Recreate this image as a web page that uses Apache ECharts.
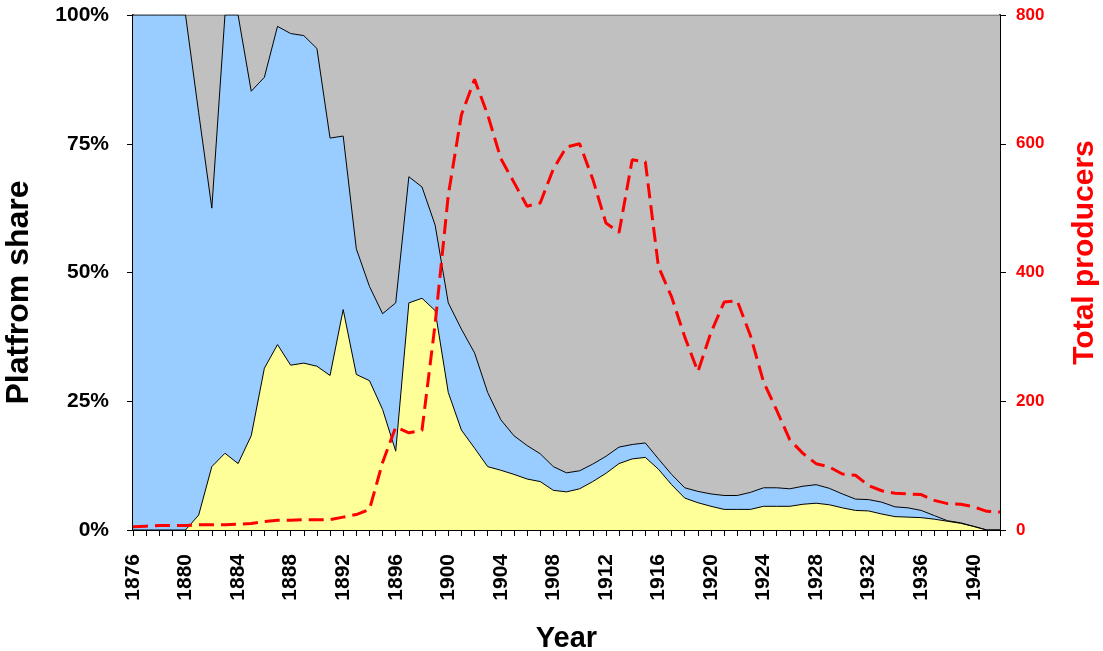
<!DOCTYPE html>
<html>
<head>
<meta charset="utf-8">
<script src="https://cdn.jsdelivr.net/npm/echarts@6/dist/echarts.min.js"></script>
<style>
  html, body { margin: 0; padding: 0; background: #fff; }
  #main { width: 1103px; height: 651px; }
</style>
</head>
<body>
<div id="main"></div>
<script>
// years 1876 - 1942
var years = [];
for (var y = 1876; y <= 1942; y++) years.push(String(y));

// platform share, %
var evShare = [0, 0, 0, 0, 0, 2.9, 12.3, 14.9, 12.9, 18.3,
  31.4, 36.0, 32.0, 32.4, 31.8, 30.0, 42.8, 30.2, 29.0, 23.4,
  15.3, 44.1, 45.0, 42.6, 26.7, 19.4, 15.9, 12.3, 11.6, 10.8,
  9.9, 9.4, 7.7, 7.4, 8.0, 9.4, 11.0, 12.9, 13.8, 14.1,
  11.8, 8.8, 6.2, 5.3, 4.6, 4.0, 4.0, 4.0, 4.6, 4.6,
  4.6, 5.0, 5.2, 4.9, 4.3, 3.8, 3.7, 3.1, 2.6, 2.5,
  2.4, 2.1, 1.7, 1.3, 0.7, 0, 0];
var steamShare = [100, 100, 100, 100, 100, 78.1, 50.2, 85.1, 87.1, 66.9,
  56.5, 61.8, 64.4, 63.6, 61.7, 46.1, 33.7, 24.4, 18.3, 18.6,
  28.8, 24.5, 21.6, 16.6, 17.4, 19.6, 18.5, 14.4, 9.8, 7.5,
  6.5, 5.4, 4.6, 3.7, 3.5, 3.4, 3.3, 3.2, 2.8, 2.8,
  2.0, 2.0, 2.0, 2.2, 2.4, 2.7, 2.7, 3.3, 3.6, 3.6,
  3.4, 3.5, 3.6, 3.2, 2.7, 2.2, 2.2, 2.3, 1.9, 1.8,
  1.4, 0.7, 0.1, 0.1, 0, 0, 0];
var iceShare = [0, 0, 0, 0, 0, 19.0, 37.5, 0, 0, 14.8,
  12.1, 2.2, 3.6, 4.0, 6.5, 23.9, 23.5, 45.4, 52.7, 58.0,
  55.9, 31.4, 33.4, 40.8, 55.9, 61.0, 65.6, 73.3, 78.6, 81.7,
  83.6, 85.2, 87.7, 88.9, 88.5, 87.2, 85.7, 83.9, 83.4, 83.1,
  86.2, 89.2, 91.8, 92.5, 93.0, 93.3, 93.3, 92.7, 91.8, 91.8,
  92.0, 91.5, 91.2, 91.9, 93.0, 94.0, 94.1, 94.6, 95.5, 95.7,
  96.2, 97.2, 98.2, 98.6, 99.3, 100, 100];
// total producers
var producers = [5, 6, 7, 7, 7, 8, 8, 8, 9, 10,
  13, 15, 15, 16, 16, 16, 20, 24, 32, 105,
  160, 151, 155, 320, 520, 645, 700, 645, 577, 540,
  503, 508, 561, 595, 600, 545, 477, 462, 575, 572,
  409, 362, 300, 246, 307, 354, 356, 302, 230, 186,
  140, 119, 103, 98, 87, 85, 69, 61, 57, 56,
  55, 46, 41, 40, 36, 29, 28];

var font = "'Liberation Sans', Arial, sans-serif";
var myChart = echarts.init(document.getElementById("main"));
var option = {
  animation: false,
  textStyle: { fontFamily: font },
  grid: { left: 133, right: 103, top: 15, bottom: 121, outerBoundsMode: "none", containLabel: false },
  xAxis: {
    type: "category",
    data: years,
    boundaryGap: false,
    name: "Year",
    nameLocation: "middle",
    nameGap: 94,
    nameTextStyle: { fontSize: 29, fontWeight: "bold", color: "#000", fontFamily: font, verticalAlign: "top" },
    axisLine: { lineStyle: { color: "#000", width: 2 } },
    axisTick: { interval: 0, length: 6, lineStyle: { color: "#000" } },
    axisLabel: {
      interval: 3,
      rotate: 90,
      fontSize: 21,
      fontWeight: "bold",
      color: "#000",
      margin: 24,
      fontFamily: font
    },
    splitLine: { show: false }
  },
  yAxis: [
    {
      type: "value",
      min: 0,
      max: 100,
      interval: 25,
      name: "Platfrom share",
      nameLocation: "middle",
      nameRotate: 90,
      nameGap: 98,
      nameTextStyle: { fontSize: 32, fontWeight: "bold", color: "#000", fontFamily: font, padding: [0, 40, 0, 0] },
      axisLine: { show: true, lineStyle: { color: "#000", width: 2 } },
      axisTick: { show: true, length: 6, lineStyle: { color: "#000" } },
      axisLabel: { formatter: "{value}%", fontSize: 21, fontWeight: "bold", color: "#000", margin: 24, fontFamily: font },
      splitLine: { show: false }
    },
    {
      type: "value",
      min: 0,
      max: 800,
      interval: 200,
      position: "right",
      name: "Total producers",
      nameLocation: "middle",
      nameRotate: 90,
      nameGap: 70,
      nameTextStyle: { fontSize: 30, fontWeight: "bold", color: "#ff0000", fontFamily: font, padding: [0, 0, 0, 40] },
      axisLine: { show: true, lineStyle: { color: "#000", width: 2 } },
      axisTick: { show: true, length: 6, lineStyle: { color: "#000" } },
      axisLabel: { fontSize: 17, fontWeight: "bold", color: "#ff0000", margin: 16, fontFamily: font },
      splitLine: { show: false }
    }
  ],
  series: [
    {
      name: "EVs",
      type: "line",
      stack: "share",
      data: evShare,
      symbol: "none",
      lineStyle: { color: "#000", width: 1 },
      areaStyle: { color: "#ffff99", opacity: 1 },
      z: 2
    },
    {
      name: "Steam",
      type: "line",
      stack: "share",
      data: steamShare,
      symbol: "none",
      lineStyle: { color: "#000", width: 1 },
      areaStyle: { color: "#99ccff", opacity: 1 },
      z: 2
    },
    {
      name: "ICE",
      type: "line",
      stack: "share",
      data: iceShare,
      symbol: "none",
      lineStyle: { color: "#555", width: 1 },
      areaStyle: { color: "#c0c0c0", opacity: 1 },
      z: 1
    },
    {
      name: "Total producers",
      type: "line",
      yAxisIndex: 1,
      data: producers,
      symbol: "none",
      lineStyle: { color: "#ff0000", width: 3, type: [15, 7] },
      z: 5
    }
  ],
  graphic: [
    { type: "text", left: 176, top: 272, style: { text: "Steam", fontSize: 36, fill: "#000", fontFamily: font } },
    { type: "text", left: 273, top: 442, style: { text: "EVs", fontSize: 36, fill: "#000", fontFamily: font } },
    { type: "text", left: 769, top: 112, style: { text: "ICE", fontSize: 36, fill: "#000", fontFamily: font } }
  ]
};
myChart.setOption(option);
</script>
</body>
</html>
